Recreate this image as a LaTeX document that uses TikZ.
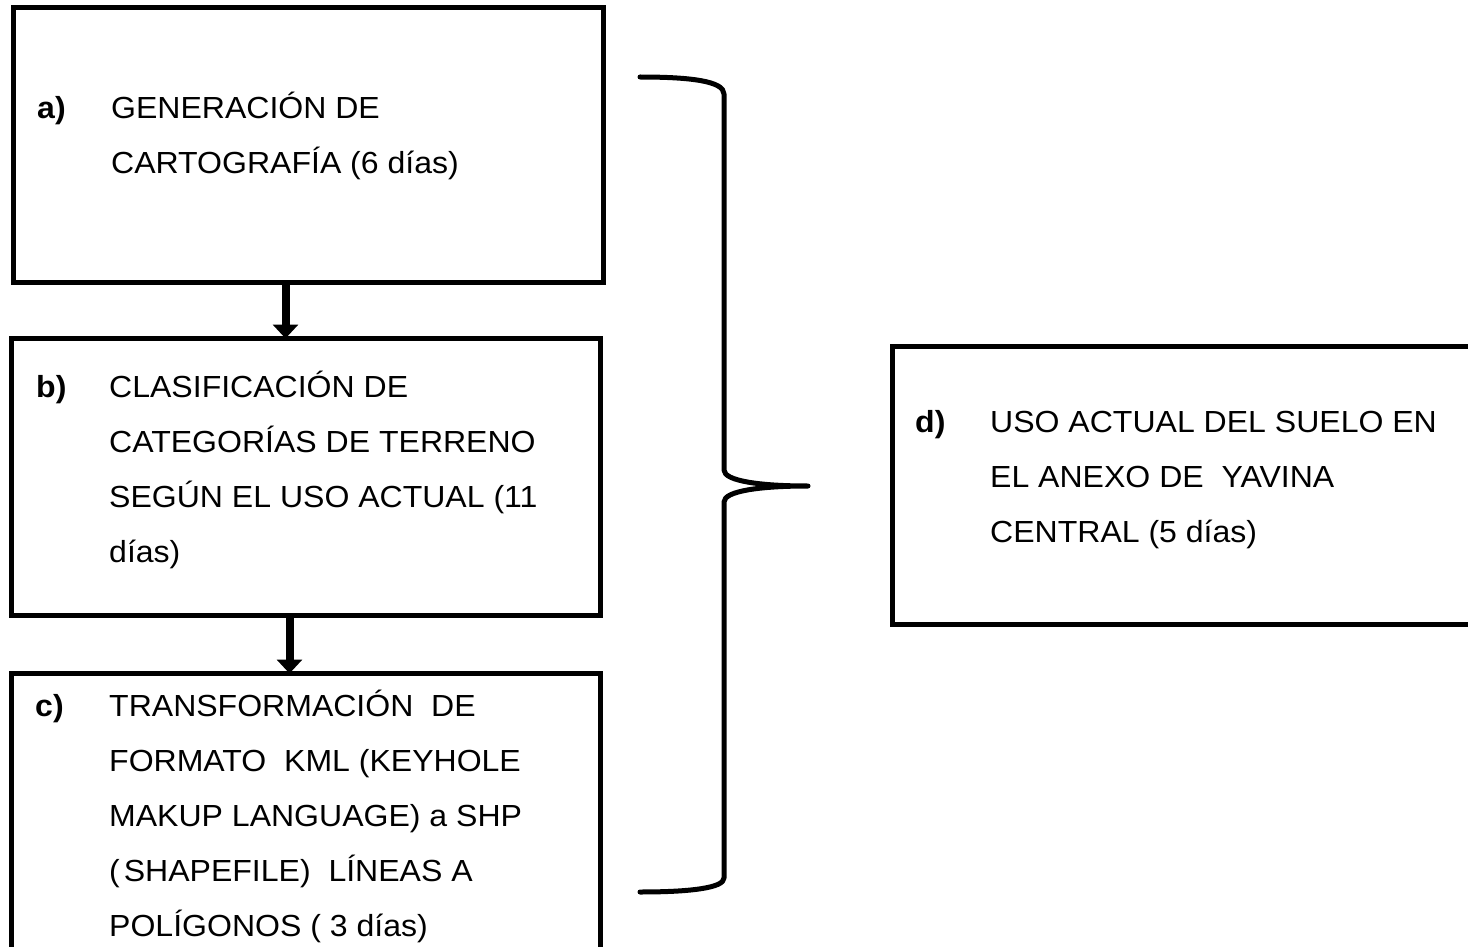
\documentclass[tikz,border=0pt]{standalone}
\usepackage{fontspec}
\setmainfont{Liberation Sans}[FakeStretch=1.05]
\usetikzlibrary{arrows.meta}
\newcommand{\mlines}[1]{\begin{tabular}[t]{@{}l@{}}#1\end{tabular}}
\begin{document}
\begin{tikzpicture}[x=1pt,y=-1pt,
  box/.style={draw, line width=5pt, rectangle, inner sep=0pt, outer sep=0pt, anchor=north west},
  txt/.style={anchor=base west, inner sep=0pt, font=\fontsize{30.5}{55}\selectfont},
  lab/.style={anchor=base west, inner sep=0pt, font=\fontsize{30.5}{55}\selectfont\bfseries},
  arr/.style={line width=8pt, -{Triangle[width=25pt 0,length=14pt 0]}},
  bracestyle/.style={line width=5pt, line cap=round, line join=round}]
\useasboundingbox (0,0) rectangle (1468,947);
\fill[white] (0,0) rectangle (1468,947);
\clip (0,0) rectangle (1468,947);
% boxes
\node[box, minimum width=589.5pt, minimum height=274.5pt] (a) at (13.5,7.5) {};
\node[box, minimum width=589pt, minimum height=277pt] (b) at (11.5,338.5) {};
\node[box, minimum width=589pt, minimum height=300pt] (c) at (11.5,673.5) {};
\node[box, minimum width=600pt, minimum height=277.5pt] (d) at (892.5,346.5) {};
% texts
\node[lab] (la) at (37,119) {a)};
\node[txt] (ta) at (111,119) {\mlines{GENERACIÓN DE\\CARTOGRAFÍA (6 días)}};
\node[lab] (lb) at (36,397) {b)};
\node[txt] (tb) at (109,397) {\mlines{CLASIFICACIÓN DE\\CATEGORÍAS DE TERRENO\\SEGÚN EL USO ACTUAL (11\\días)}};
\node[lab] (lc) at (35,716) {c)};
\node[txt] (tc) at (109,716) {\mlines{TRANSFORMACIÓN\ \ DE\\FORMATO\ \ KML (KEYHOLE\\MAKUP LANGUAGE) a SHP\\(\kern4pt SHAPEFILE)\ \ LÍNEAS A\\POLÍGONOS (\ 3 días)}};
\node[lab] (ld) at (915,432) {d)};
\node[txt] (td) at (990,432) {\mlines{USO ACTUAL DEL SUELO EN\\EL ANEXO DE\ \ YAVINA\\CENTRAL (5 días)}};
% arrows
\coordinate (x1) at (285.5,0);
\coordinate (x2) at (289.5,0);
\draw[arr] (a.south -| x1) -- (b.north -| x1);
\draw[arr] (b.south -| x2) -- (c.north -| x2);
% brace
\coordinate (bt) at (640,77);
\coordinate (bm) at (808,486);
\coordinate (bb) at (640,892);
\draw[bracestyle] (bt) .. controls (690,77) and (724,81) .. (724,94) -- (724,470)
  .. controls (724,481) and (760,486) .. (bm)
  .. controls (760,486) and (724,491) .. (724,502) -- (724,878)
  .. controls (724,888) and (690,892) .. (bb);
\end{tikzpicture}
\end{document}
